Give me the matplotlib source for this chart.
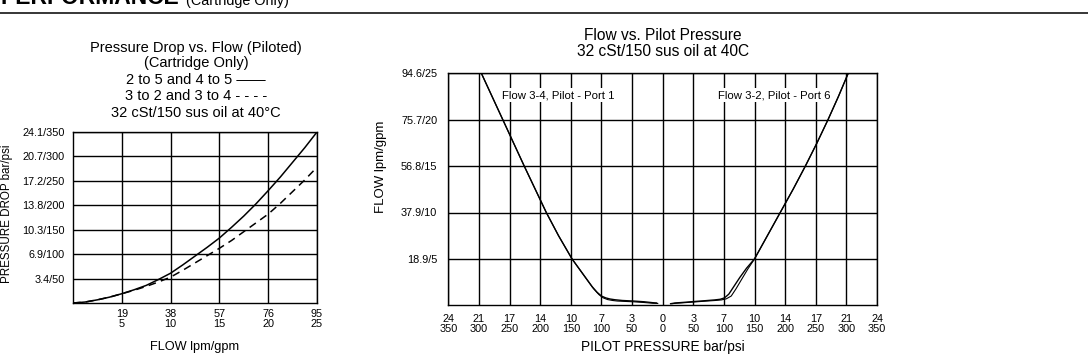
import matplotlib
matplotlib.use("Agg")
import matplotlib.pyplot as plt
from matplotlib.lines import Line2D

plt.rcParams['font.family'] = ['Liberation Sans', 'DejaVu Sans']

# ---------------- data ----------------
# Left chart: pressure drop (psi) vs flow (gpm)
pd_flow_gpm = [0, 1.25, 2.5, 3.75, 5, 6.25, 7.5, 8.75, 10, 11.25, 12.5, 13.75, 15, 16.25, 17.5,
               18.75, 20, 21.25, 22.5, 23.75, 25]
pd_solid_psi = [0, 2, 6.5, 12, 19, 27, 36, 48, 61, 78, 96, 114, 133, 155, 178, 203, 230, 258, 288, 318, 350]
pd_dashed_psi = [0, 2, 6.5, 12, 19, 26, 34, 43, 53, 67, 82, 97, 112, 128, 146, 164, 182, 204, 228, 252, 278]
pd_xticks = [5, 10, 15, 20, 25]
pd_xticklabels = ["19\n5", "38\n10", "57\n15", "76\n20", "95\n25"]
pd_yticks = [50, 100, 150, 200, 250, 300, 350]
pd_yticklabels = ["3.4/50", "6.9/100", "10.3/150", "13.8/200", "17.2/250", "20.7/300", "24.1/350"]

# Right chart: flow (gpm) vs pilot pressure (psi); left branch plotted at negative x
p34_a_psi = [-296, -278.5, -261, -243.5, -226, -208, -190, -170, -148, -137, -126, -115, -107,
             -100, -93, -86, -78, -66, -48, -30, -16, -10]
p34_a_gpm = [25, 22.5, 20, 17.5, 15, 12.5, 10, 7.5, 5, 4, 3, 2, 1.4,
             1.0, 0.8, 0.68, 0.6, 0.52, 0.46, 0.38, 0.28, 0.25]
p34_b_psi = [-296, -278.5, -261, -243.5, -226, -208, -190, -170, -148, -136, -124, -113, -104,
             -97, -90, -82, -74, -62, -48, -30, -16, -8]
p34_b_gpm = [25, 22.5, 20, 17.5, 15, 12.5, 10, 7.5, 5, 3.9, 2.8, 1.8, 1.15,
             0.8, 0.62, 0.52, 0.46, 0.42, 0.38, 0.3, 0.22, 0.2]
p32_a_psi = [13, 20, 35, 50, 70, 85, 94, 101, 108, 116, 126, 137, 150, 171, 192, 213, 233,
             252, 270, 287, 303]
p32_a_gpm = [0.17, 0.25, 0.32, 0.4, 0.5, 0.58, 0.65, 0.8, 1.2, 2.0, 3.0, 4.0, 5, 7.5, 10, 12.5, 15,
             17.5, 20, 22.5, 25]
p32_b_psi = [15, 22, 35, 50, 70, 86, 96, 104, 112, 120, 129, 139, 150, 171, 192, 213, 233,
             252, 270, 287, 303]
p32_b_gpm = [0.17, 0.22, 0.28, 0.35, 0.45, 0.52, 0.58, 0.7, 1.0, 1.8, 2.8, 3.9, 5, 7.5, 10, 12.5, 15,
             17.5, 20, 22.5, 25]
pp_xticks = [-350, -300, -250, -200, -150, -100, -50, 0, 50, 100, 150, 200, 250, 300, 350]
pp_xticklabels = ["24\n350", "21\n300", "17\n250", "14\n200", "10\n150", "7\n100", "3\n50", "0\n0",
                  "3\n50", "7\n100", "10\n150", "14\n200", "17\n250", "21\n300", "24\n350"]
pp_yticks = [5, 10, 15, 20, 25]
pp_yticklabels = ["18.9/5", "37.9/10", "56.8/15", "75.7/20", "94.6/25"]

W, H = 1088, 354
fig = plt.figure(figsize=(W / 100, H / 100), dpi=100)


def fy(py):
    return 1 - py / H


def fx(px):
    return px / W


# heading (cut off at the top edge, as in the reference)
fig.text(fx(0), fy(4.5), "PERFORMANCE", fontsize=16.5, fontweight='bold', va='baseline', ha='left')
fig.text(fx(186), fy(4.5), "(Cartridge Only)", fontsize=10.4, va='baseline', ha='left')
fig.add_artist(Line2D([0, 1], [fy(13), fy(13)], color='black', lw=1.1, transform=fig.transFigure))

tick_fs = 7.8

# ---------------- left chart ----------------
ax1 = fig.add_axes([fx(73), fy(303), fx(317) - fx(73), fy(132) - fy(303)])
ax1.plot(pd_flow_gpm, pd_solid_psi, color='black', lw=1.1)
ax1.plot(pd_flow_gpm, pd_dashed_psi, color='black', lw=1.1, dashes=(5, 3.5))
ax1.set_xlim(0, 25)
ax1.set_ylim(0, 350)
ax1.set_xticks(pd_xticks)
ax1.set_xticklabels(pd_xticklabels, fontsize=tick_fs, linespacing=1.0)
ax1.set_yticks(pd_yticks)
ax1.set_yticklabels(pd_yticklabels, fontsize=tick_fs)
ax1.tick_params(length=0, pad=6)
ax1.tick_params(axis='x', pad=4)
ax1.grid(True, color='black', lw=1.0)
for s in ax1.spines.values():
    s.set_linewidth(1.0)
fig.text(fx(195), fy(347), "FLOW lpm/gpm", fontsize=9.2, ha='center', va='center')
fig.text(fx(7.5), fy(214), "PRESSURE DROP bar/psi", fontsize=8.4, ha='center', va='center', rotation=90)

left_title = ["Pressure Drop vs. Flow (Piloted)", "(Cartridge Only)", "2 to 5 and 4 to 5 \u2014\u2014",
              "3 to 2 and 3 to 4 - - - -", "32 cSt/150 sus oil at 40\u00b0C"]
for t, py in zip(left_title, [48, 63.5, 80, 96.5, 113]):
    fig.text(fx(196), fy(py), t, fontsize=10.5, ha='center', va='center')

# ---------------- right chart ----------------
ax2 = fig.add_axes([fx(448.3), fy(305.3), fx(877) - fx(448.3), fy(73.3) - fy(305.3)])
ax2.plot(p34_a_psi, p34_a_gpm, color='black', lw=1.0)
ax2.plot(p34_b_psi, p34_b_gpm, color='black', lw=0.8)
ax2.plot(p32_a_psi, p32_a_gpm, color='black', lw=1.0)
ax2.plot(p32_b_psi, p32_b_gpm, color='black', lw=0.8)
ax2.set_xlim(-350, 350)
ax2.set_ylim(0, 25)
ax2.set_xticks(pp_xticks)
ax2.set_xticklabels(pp_xticklabels, fontsize=tick_fs, linespacing=1.0)
ax2.set_yticks(pp_yticks)
ax2.set_yticklabels(pp_yticklabels, fontsize=tick_fs)
ax2.tick_params(length=0, pad=8)
ax2.tick_params(axis='x', pad=6)
ax2.grid(True, color='black', lw=1.0)
for s in ax2.spines.values():
    s.set_linewidth(1.0)
bb = dict(facecolor='white', edgecolor='none', pad=1.5)
ax2.text(-170, 22.66, "Flow 3-4, Pilot - Port 1", fontsize=8.2, ha='center', va='center', bbox=bb)
ax2.text(182, 22.66, "Flow 3-2, Pilot - Port 6", fontsize=8.2, ha='center', va='center', bbox=bb)
fig.text(fx(663), fy(347), "PILOT PRESSURE bar/psi", fontsize=9.9, ha='center', va='center')
fig.text(fx(381), fy(167), "FLOW lpm/gpm", fontsize=9.5, ha='center', va='center', rotation=90)
fig.text(fx(663), fy(35), "Flow vs. Pilot Pressure", fontsize=11.2, ha='center', va='center')
fig.text(fx(663), fy(52), "32 cSt/150 sus oil at 40C", fontsize=11.2, ha='center', va='center')

fig.savefig("out.png", dpi=100)
